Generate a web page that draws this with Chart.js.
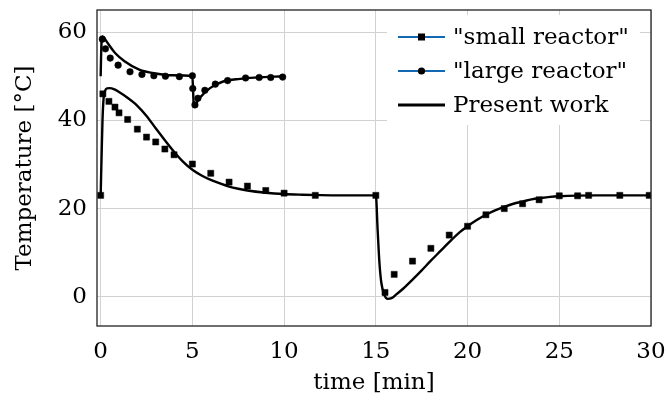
<!DOCTYPE html>
<html>
<head>
<meta charset="utf-8">
<script src="https://cdn.jsdelivr.net/npm/chart.js@4"></script>
<style>
  body { margin: 0; background: #fff; }
  canvas { display: block; }
</style>
</head>
<body>
<canvas id="ReactorChart" width="666" height="404"></canvas>
<script>
// measured points, "small reactor"
const smallTime = [0, 0.12, 0.45, 0.78, 1.0, 1.47, 2.0, 2.5, 3.0, 3.5, 4.0, 5.0, 6.0, 7.0, 8.0, 9.0, 10.0, 11.7,
    15.0, 15.5, 16.0, 17.0, 18.0, 19.0, 20.0, 21.0, 22.0, 23.0, 23.9, 25.0, 26.0, 26.6, 28.3, 29.9]
const smallTemp = [23.0, 46.0, 44.3, 43.0, 41.7, 40.2, 38.0, 36.2, 35.1, 33.5, 32.2, 30.1, 28.0, 26.0, 25.1, 24.1, 23.5, 23.0,
    23.0, 1.0, 5.1, 8.1, 11.0, 14.0, 16.0, 18.6, 20.0, 21.1, 22.0, 22.9, 22.9, 23.0, 23.0, 23.0]

// measured points, "large reactor"
const largeTime = [0.09, 0.26, 0.52, 0.95, 1.6, 2.25, 2.9, 3.53, 4.29, 5.0, 5.02, 5.14, 5.3, 5.68, 6.25, 6.92, 7.9, 8.64, 9.27, 9.92]
const largeTemp = [58.4, 56.2, 54.1, 52.5, 51.0, 50.4, 50.1, 50.0, 49.9, 50.1, 47.2, 43.5, 45.0, 46.8, 48.2, 49.0, 49.6, 49.7, 49.7, 49.8]

// model ("Present work"), small reactor run
const modelSmallTime = [0, 0.05, 0.1, 0.16, 0.25, 0.35, 0.5, 0.75, 1.0, 1.5, 2.0, 2.5, 3.0, 3.5, 4.0, 4.5, 5.0, 5.5, 6.0, 6.5,
    7.0, 7.5, 8.0, 9.0, 10.0, 11.0, 12.0, 13.0, 15.0,
    15.1, 15.2, 15.3, 15.45, 15.65, 15.85, 16.1, 16.5, 17.0, 17.5, 18.0, 18.5, 19.0, 19.5, 20.0, 20.5, 21.0, 21.5,
    22.0, 22.5, 23.0, 23.5, 24.0, 24.5, 25.0, 26.0, 27.0, 30.0]
const modelSmallTemp = [23.0, 32.0, 40.0, 45.0, 46.8, 47.25, 47.3, 47.0, 46.4, 45.0, 43.3, 41.0, 38.2, 35.5, 32.9, 30.6, 28.8, 27.5, 26.5, 25.7,
    25.0, 24.5, 24.1, 23.6, 23.3, 23.15, 23.05, 23.0, 23.0,
    15.0, 7.5, 3.2, 0.6, -0.45, -0.3, 0.5, 1.9, 3.9, 6.0, 8.2, 10.3, 12.4, 14.4, 16.0, 17.4, 18.6, 19.6,
    20.4, 21.1, 21.6, 22.1, 22.4, 22.65, 22.8, 22.95, 23.0, 23.0]

// model ("Present work"), large reactor run
const modelLargeTime = [0, 0.02, 0.06, 0.1, 0.2, 0.4, 0.8, 1.3, 2.1, 3.0, 3.9, 5.0, 5.04, 5.08, 5.2, 5.41, 5.96, 6.68, 7.6, 8.5, 9.95]
const modelLargeTemp = [50.0, 54.0, 58.5, 59.0, 58.6, 57.4, 55.2, 53.4, 51.5, 50.6, 50.2, 50.0, 46.5, 43.0, 43.8, 45.1, 47.3, 48.8, 49.4, 49.7, 50.0]

const xTicks = [0, 5, 10, 15, 20, 25, 30]
const yTicks = [0, 20, 40, 60]

const legendLabels = ['"small reactor"', '"large reactor"', 'Present work']

const FONT = "'DejaVu Serif', serif"
const BLUE = '#1268b3'

function pts(xs, ys) {
    return xs.map((x, i) => ({x: x, y: ys[i]}))
}

// white legend box in the top right corner, drawn like the pgfplots one
const texLegend = {
    id: 'texLegend',
    afterDraw(chart) {
        const ctx = chart.ctx
        const area = chart.chartArea
        const boxRight = area.right - 11
        const boxLeft = boxRight - 253
        const boxTop = area.top + 5
        ctx.save()
        ctx.fillStyle = '#fff'
        ctx.fillRect(boxLeft, boxTop, boxRight - boxLeft, 110)

        const x0 = boxLeft + 11, x1 = boxLeft + 58
        ctx.font = '23px ' + FONT
        ctx.textBaseline = 'middle'
        ctx.textAlign = 'left'
        for (let i = 0; i < legendLabels.length; i++) {
            const y = boxTop + 22 + i * 34
            ctx.beginPath()
            ctx.moveTo(x0, y)
            ctx.lineTo(x1, y)
            ctx.lineWidth = i < 2 ? 2 : 3
            ctx.strokeStyle = i < 2 ? BLUE : '#000'
            ctx.stroke()
            ctx.fillStyle = '#000'
            const mx = (x0 + x1) / 2
            if (i === 0) {
                ctx.fillRect(mx - 3.5, y - 3.5, 7, 7)
            } else if (i === 1) {
                ctx.beginPath()
                ctx.arc(mx, y, 3.6, 0, Math.PI * 2)
                ctx.fill()
            }
            ctx.fillText(legendLabels[i], x1 + 8, y + 1)
        }

        // axis frame
        ctx.strokeStyle = '#222'
        ctx.lineWidth = 1.3
        ctx.strokeRect(area.left, area.top, area.right - area.left, area.bottom - area.top)
        ctx.restore()
    }
}

Chart.defaults.color = '#000'
Chart.defaults.font.family = FONT

const ctx = document.getElementById('ReactorChart')
new Chart(ctx, {
    type: 'scatter',
    data: {
        datasets: [
            {
                label: legendLabels[0],
                data: pts(smallTime, smallTemp),
                pointStyle: 'rect',
                pointRadius: 4.3,
                pointBorderWidth: 0.5,
                backgroundColor: '#000',
                borderColor: '#000',
                showLine: false
            },
            {
                label: legendLabels[1],
                data: pts(largeTime, largeTemp),
                pointStyle: 'circle',
                pointRadius: 3.3,
                pointBorderWidth: 0.5,
                backgroundColor: '#000',
                borderColor: '#000',
                showLine: false
            },
            {
                label: legendLabels[2],
                data: pts(modelSmallTime, modelSmallTemp),
                showLine: true,
                pointRadius: 0,
                borderColor: '#000',
                borderWidth: 2.4,
                cubicInterpolationMode: 'monotone'
            },
            {
                label: legendLabels[2],
                data: pts(modelLargeTime, modelLargeTemp),
                showLine: true,
                pointRadius: 0,
                borderColor: '#000',
                borderWidth: 2.4,
                cubicInterpolationMode: 'monotone'
            }
        ]
    },
    options: {
        responsive: false,
        animation: false,
        layout: {padding: {left: 0, top: 10, right: 15, bottom: 0}},
        plugins: {
            legend: {display: false},
            tooltip: {enabled: false}
        },
        scales: {
            x: {
                type: 'linear',
                min: -0.2,
                max: 30,
                afterBuildTicks: s => { s.ticks = xTicks.map(v => ({value: v})) },
                afterFit: s => { s.height = 78; s.paddingLeft = 0; s.paddingRight = 0 },
                grid: {color: '#d2d2d2', lineWidth: 1, drawTicks: false},
                border: {display: false},
                ticks: {font: {size: 23, family: FONT}, padding: 12, maxRotation: 0},
                title: {display: true, text: 'time [min]', font: {size: 23, family: FONT}, padding: {top: 0, bottom: 7}}
            },
            y: {
                type: 'linear',
                min: -6.6,
                max: 65,
                afterBuildTicks: s => { s.ticks = yTicks.map(v => ({value: v})) },
                afterFit: s => { s.width = 97; s.paddingTop = 0; s.paddingBottom = 0 },
                grid: {color: '#d2d2d2', lineWidth: 1, drawTicks: false},
                border: {display: false},
                ticks: {font: {size: 23, family: FONT}, padding: 10},
                title: {display: true, text: 'Temperature [°C]', font: {size: 23, family: FONT}, padding: {top: 11, bottom: 0}}
            }
        }
    },
    plugins: [texLegend]
})
</script>
</body>
</html>
